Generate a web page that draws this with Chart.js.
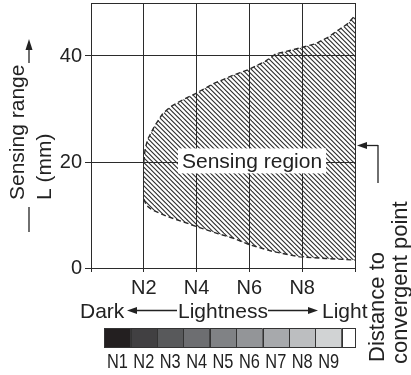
<!DOCTYPE html>
<html lang="en">
<head>
<meta charset="UTF-8">
<title>Sensing region</title>
<script src="https://cdn.jsdelivr.net/npm/chart.js@4.4.1/dist/chart.umd.min.js"></script>
<style>
  html, body { margin: 0; padding: 0; background: #fff; }
  canvas { display: block; }
</style>
</head>
<body>
<canvas id="chart" width="411" height="375"></canvas>
<script>
// upper edge of the sensing region: lightness (N) vs range L (mm)
const upperX = [2.0, 2.05, 2.15, 2.4, 2.7, 3.0, 3.5, 4.0, 4.6, 5.4, 6.0, 6.6, 7.0, 7.5, 7.9, 8.5, 9.0, 9.4, 9.7, 10.0];
const upperY = [20.0, 22.5, 24.3, 26.7, 29.0, 30.4, 31.8, 33.0, 34.7, 36.4, 37.5, 39.0, 40.4, 41.0, 41.5, 42.3, 43.6, 45.0, 46.0, 47.6];
// lower edge
const lowerX = [2.0, 2.1, 2.3, 2.9, 3.5, 4.0, 4.8, 5.4, 6.0, 6.9, 7.9, 8.9, 10.0];
const lowerY = [13.0, 11.8, 11.0, 9.7, 8.7, 7.8, 6.5, 5.6, 4.4, 3.1, 2.1, 1.8, 1.5];

const xTicks = [0, 2, 4, 6, 8, 10];
const yTicks = [0, 20, 40, 50];
const grayLabels = ['N1', 'N2', 'N3', 'N4', 'N5', 'N6', 'N7', 'N8', 'N9'];
const grayColors = ['#231f20', '#414042', '#58595b', '#6d6e71', '#808285', '#939598', '#a7a9ac', '#bcbec0', '#d1d3d4', '#ffffff'];

const FONT = '"Liberation Sans", Arial, Helvetica, sans-serif';
const INK = '#222';
const LINE = '#2b2b2b';

const upper = upperX.map((x, i) => ({ x: x, y: upperY[i] }));
const lower = lowerX.map((x, i) => ({ x: x, y: lowerY[i] }));
const region = upper.concat(lower.slice().reverse());

// diagonal hatching
const tile = document.createElement('canvas');
tile.width = 14; tile.height = 14;
const tctx = tile.getContext('2d');
tctx.strokeStyle = '#2a2a2a';
tctx.lineWidth = 1.1;
for (let i = -3; i <= 3; i++) {
    const x0 = i * 14 / 3;
    tctx.beginPath();
    tctx.moveTo(x0 - 2, -2);
    tctx.lineTo(x0 + 16, 16);
    tctx.stroke();
}
const canvas = document.getElementById('chart');
const hatch = canvas.getContext('2d').createPattern(tile, 'repeat');

function head(ctx, x, y, dir) {
    ctx.beginPath();
    if (dir === 'left') { ctx.moveTo(x, y); ctx.lineTo(x + 10, y - 3.5); ctx.lineTo(x + 10, y + 3.5); }
    if (dir === 'right') { ctx.moveTo(x, y); ctx.lineTo(x - 10, y - 3.5); ctx.lineTo(x - 10, y + 3.5); }
    if (dir === 'up') { ctx.moveTo(x, y); ctx.lineTo(x - 3.5, y + 11); ctx.lineTo(x + 3.5, y + 11); }
    ctx.closePath();
    ctx.fill();
}
function seg(ctx, x1, y1, x2, y2) {
    ctx.beginPath();
    ctx.moveTo(x1, y1);
    ctx.lineTo(x2, y2);
    ctx.stroke();
}
function vtext(ctx, str, x, y) {
    ctx.save();
    ctx.translate(x, y);
    ctx.rotate(-Math.PI / 2);
    ctx.textAlign = 'left';
    ctx.textBaseline = 'alphabetic';
    ctx.fillText(str, 0, 0);
    ctx.restore();
}

const labelAt = [6.1, 20.3];

const extras = {
    id: 'extras',
    afterDatasetsDraw(chart) {
        const ctx = chart.ctx, xs = chart.scales.x, ys = chart.scales.y;
        const px = xs.getPixelForValue(labelAt[0]);
        const py = ys.getPixelForValue(labelAt[1]);
        const text = 'Sensing region';
        ctx.save();
        ctx.font = '21px ' + FONT;
        const w = ctx.measureText(text).width;
        ctx.fillStyle = '#fff';
        ctx.fillRect(px - w / 2 - 4, py - 12, w + 8, 25);
        ctx.fillStyle = INK;
        ctx.textAlign = 'center';
        ctx.textBaseline = 'alphabetic';
        ctx.fillText(text, px, py + 8);
        ctx.restore();
    },
    afterDraw(chart) {
        const ctx = chart.ctx, xs = chart.scales.x, area = chart.chartArea;
        ctx.save();
        ctx.fillStyle = INK;
        ctx.strokeStyle = INK;
        ctx.lineWidth = 1.3;
        ctx.font = '21px ' + FONT;

        // y title
        vtext(ctx, 'Sensing range', 24, 200);
        vtext(ctx, 'L (mm)', 51, 200);
        seg(ctx, 29, 207, 29, 232);
        seg(ctx, 29, 48, 29, 63);
        head(ctx, 29, 39, 'up');

        // right title + arrow
        ctx.font = '22px ' + FONT;
        vtext(ctx, 'Distance to', 384, 362);
        vtext(ctx, 'convergent point', 407, 364);
        ctx.font = '21px ' + FONT;
        seg(ctx, 366, 145.5, 378, 145.5);
        seg(ctx, 378, 145, 378, 183);
        head(ctx, 357, 145.5, 'left');

        // lightness line
        ctx.textBaseline = 'alphabetic';
        ctx.textAlign = 'left';
        ctx.fillText('Dark', 80, 318);
        ctx.fillText('Lightness', 178, 318);
        ctx.fillText('Light', 322, 318);
        seg(ctx, 136, 310.5, 177, 310.5);
        head(ctx, 127, 310.5, 'left');
        seg(ctx, 268, 310.5, 309, 310.5);
        head(ctx, 318, 310.5, 'right');

        // gray scale bar on the x scale
        const top = area.bottom + 60, h = 19;
        grayColors.forEach((c, i) => {
            const l = xs.getPixelForValue(i + 0.5);
            const r = xs.getPixelForValue(Math.min(i + 1.5, 10));
            ctx.fillStyle = c;
            ctx.fillRect(l, top, r - l, h);
            ctx.lineWidth = 1;
            ctx.strokeStyle = '#333';
            ctx.strokeRect(Math.round(l) + 0.5, top + 0.5, Math.round(r - l), h);
        });
        ctx.fillStyle = INK;
        ctx.font = '21px ' + FONT;
        ctx.textAlign = 'center';
        ctx.textBaseline = 'alphabetic';
        grayLabels.forEach((t, i) => {
            const cx = xs.getPixelForValue(i + 1);
            ctx.save();
            ctx.translate(cx, top + h + 21);
            ctx.scale(0.78, 1);
            ctx.fillText(t, 0, 0);
            ctx.restore();
        });
        ctx.restore();
    }
};

new Chart(canvas, {
    type: 'line',
    data: {
        datasets: [
            {
                data: region,
                fill: 'shape',
                backgroundColor: hatch,
                borderWidth: 0,
                borderColor: 'rgba(0,0,0,0)',
                pointRadius: 0,
                tension: 0
            },
            {
                data: upper,
                fill: false,
                borderColor: '#2a2a2a',
                borderWidth: 1.4,
                borderDash: [5, 3],
                pointRadius: 0,
                tension: 0
            },
            {
                data: lower,
                fill: false,
                borderColor: '#2a2a2a',
                borderWidth: 1.4,
                borderDash: [5, 3],
                pointRadius: 0,
                tension: 0
            }
        ]
    },
    options: {
        responsive: false,
        animation: false,
        layout: { padding: { top: 3, right: 56, left: 0, bottom: 0 } },
        plugins: { legend: { display: false }, tooltip: { enabled: false } },
        scales: {
            x: {
                type: 'linear',
                min: 0,
                max: 10,
                afterBuildTicks: s => { s.ticks = xTicks.map(v => ({ value: v })); },
                afterFit: s => { s.height = 107; s.paddingLeft = 0; s.paddingRight = 0; },
                grid: { color: LINE, lineWidth: 1, tickLength: 4, tickColor: LINE },
                border: { display: true, color: LINE, width: 1 },
                ticks: {
                    autoSkip: false,
                    maxRotation: 0,
                    padding: 4,
                    color: INK,
                    font: { family: FONT, size: 20 },
                    callback: v => (v > 0 && v < 10 ? 'N' + v : '')
                }
            },
            y: {
                min: 0,
                max: 50,
                afterBuildTicks: s => { s.ticks = yTicks.map(v => ({ value: v })); },
                afterFit: s => { s.width = 91; s.paddingTop = 0; s.paddingBottom = 0; },
                grid: {
                    color: LINE,
                    lineWidth: 1,
                    tickLength: 6,
                    tickColor: c => (c.tick && c.tick.value === 50 ? 'rgba(0,0,0,0)' : LINE)
                },
                border: { display: true, color: LINE, width: 1 },
                ticks: {
                    padding: 3,
                    color: INK,
                    font: { family: FONT, size: 20 },
                    callback: v => (v === 50 ? '' : v)
                }
            }
        }
    },
    plugins: [extras]
});
</script>
</body>
</html>
